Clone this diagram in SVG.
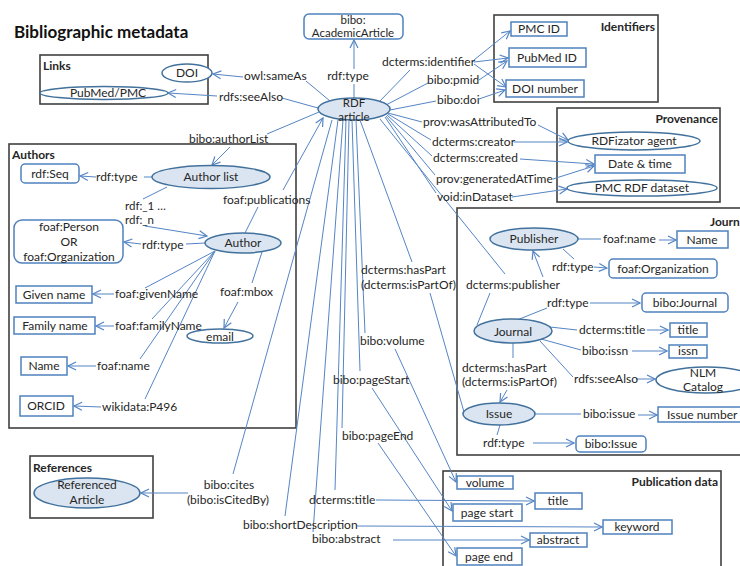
<svg xmlns="http://www.w3.org/2000/svg" width="740" height="566" viewBox="0 0 740 566">
<defs>
<marker id="ah" markerWidth="10" markerHeight="10" refX="9" refY="5" orient="auto" markerUnits="userSpaceOnUse"><path d="M1,1 L9,5 L1,9" fill="none" stroke="#5585c5" stroke-width="1.2"/></marker>
<style>
text{font-family:Lato,"Liberation Sans",sans-serif;font-size:12px;fill:#262626}
.m{text-anchor:middle}
.e{text-anchor:end}
.s{font-size:11.5px}
.hd{font-weight:bold;font-size:12px}
.title{font-weight:bold;font-size:17px;fill:#111}
.c{stroke:#5585c5;stroke-width:1;fill:none}
.a{marker-end:url(#ah)}
.box{fill:none;stroke:#404040;stroke-width:1.6}
.rn{fill:#fff;stroke:#4f81bd;stroke-width:1.5}
.en{fill:#dbe5f1;stroke:#41719c;stroke-width:1.5}
.eo{fill:#fff;stroke:#41719c;stroke-width:1.5}
</style>
</defs>
<rect width="740" height="566" fill="#fff"/>
<text class="title" x="14" y="38">Bibliographic metadata</text>

<g id="links-box"><rect class="box" x="40" y="55" width="168" height="49"/><text class="hd" x="43" y="70">Links</text></g>
<g id="identifiers-box"><rect class="box" x="494" y="15" width="164" height="87"/><text class="hd e" x="655" y="31">Identifiers</text></g>
<g id="provenance-box"><rect class="box" x="557" y="108" width="163" height="94"/><text class="hd e" x="718" y="123">Provenance</text></g>
<g id="authors-box"><rect class="box" x="9" y="144" width="287" height="284"/><text class="hd" x="12" y="159">Authors</text></g>
<g id="references-box"><rect class="box" x="30" y="456" width="123" height="62"/><text class="hd" x="33" y="472">References</text></g>
<g id="journal-box"><rect class="box" x="457" y="208" width="300" height="247"/><text class="hd" x="710" y="226">Journ</text></g>
<g id="pubdata-box"><rect class="box" x="443" y="471" width="278" height="110"/><text class="hd e" x="718" y="486">Publication data</text></g>

<g id="connectors">
<path class="c" d="M354,98 V84"/><path class="c a" d="M354,69 V40"/>
<path class="c" d="M330,101 L306,81"/><path class="c a" d="M243,77 L213,74"/>
<path class="c" d="M318,108 L282,98"/><path class="c a" d="M217,96 L168,93"/>
<path class="c" d="M380,101 L410,70"/>
<path class="c a" d="M474,60 L510,31"/><path class="c a" d="M474,62 L508,58"/><path class="c a" d="M474,64 L506,87"/>
<path class="c" d="M386,105 L428,83"/><path class="c a" d="M479,80 L507,61"/>
<path class="c" d="M390,110 L436,101"/><path class="c a" d="M479,99 L505,90"/>
<path class="c" d="M388,113 L422,122"/><path class="c a" d="M538,125 L568,140"/>
<path class="c" d="M388,114 L431,140"/><path class="c a" d="M514,142 L567,142"/>
<path class="c" d="M387,115 L432,156"/><path class="c a" d="M520,159 L594,164"/>
<path class="c" d="M386,116 L435,175"/><path class="c a" d="M553,179 L594,166"/>
<path class="c" d="M385,117 L436,193"/><path class="c a" d="M512,197 L567,189"/>
<path class="c" d="M319,112 L267,134"/><path class="c a" d="M230,147 L212,165"/>
<path class="c" d="M152,177 H144"/><path class="c a" d="M96,177 L80,176"/>
<path class="c" d="M167,187 L143,199"/><path class="c a" d="M145,226 L207,236"/>
<path class="c" d="M205,243 L186,244"/><path class="c a" d="M141,244 L124,242"/>
<path class="c" d="M245,233 L258,207"/><path class="c a" d="M283,190 L323,118"/>
<path class="c" d="M215,251 L145,288"/><path class="c a" d="M114,294 L93,294"/>
<path class="c" d="M215,251 L152,319"/><path class="c a" d="M114,326 L96,326"/>
<path class="c" d="M215,251 L140,359"/><path class="c a" d="M96,366 L68,366"/>
<path class="c" d="M215,251 L145,399"/><path class="c a" d="M101,407 L74,406"/>
<path class="c" d="M262,252 L252,283"/><path class="c a" d="M238,302 L224,328"/>
<path class="c" d="M332,120 L233,474"/><path class="c a" d="M188,493 L141,493"/>
<path class="c" d="M338,120 L285,516"/><path class="c a" d="M357,526 L602,527"/>
<path class="c" d="M343,120 L313,532"/><path class="c a" d="M393,540 L529,540"/>
<path class="c" d="M346,120 L335,490"/><path class="c a" d="M376,500 L534,501"/>
<path class="c" d="M349,120 L342,428"/><path class="c a" d="M378,443 L456,556"/>
<path class="c" d="M352,120 L360,371"/><path class="c a" d="M372,388 L452,511"/>
<path class="c" d="M356,120 L365,333"/><path class="c a" d="M395,349 L456,482"/>
<path class="c" d="M360,120 L412,262"/><path class="c" d="M430,293 L464,412"/>
<path class="c" d="M380,119 L505,274"/><path class="c a" d="M543,277 L533,251"/><path class="c" d="M477,325 L490,293"/>
<path class="c" d="M578,239 L601,239"/><path class="c a" d="M659,240 L676,240"/>
<path class="c" d="M563,249 L574,259"/><path class="c a" d="M594,267 L607,268"/>
<path class="c" d="M517,320 L547,308"/><path class="c a" d="M590,303 L640,303"/>
<path class="c" d="M550,327 L577,330"/><path class="c a" d="M647,330 L668,330"/>
<path class="c" d="M541,339 L581,350"/><path class="c a" d="M632,351 L667,351"/>
<path class="c" d="M540,341 L573,377"/><path class="c a" d="M636,379 L655,379"/>
<path class="c" d="M513,343 L513,358"/><path class="c a" d="M507,390 L500,402"/>
<path class="c" d="M535,414 L581,414"/><path class="c a" d="M638,415 L657,415"/>
<path class="c" d="M500,425 L497,435"/><path class="c a" d="M533,443 L574,443"/>

<text class="m" x="348" y="80">rdf:type</text>
<text x="244" y="80">owl:sameAs</text>
<text x="219" y="101">rdfs:seeAlso</text>
<text x="382" y="66">dcterms:identifier</text>
<text x="427" y="84">bibo:pmid</text>
<text x="437" y="104">bibo:doi</text>
<text x="423" y="126">prov:wasAttributedTo</text>
<text x="432" y="146">dcterms:creator</text>
<text x="433" y="162">dcterms:created</text>
<text x="436" y="183">prov:generatedAtTime</text>
<text x="437" y="201">void:inDataset</text>
<text x="189" y="143">bibo:authorList</text>
<text x="96" y="181">rdf:type</text>
<text class="s" x="125" y="210">rdf:_1 …</text>
<text class="s" x="125" y="224">rdf:_n</text>
<text x="223" y="204">foaf:publications</text>
<text x="142" y="249">rdf:type</text>
<text x="115" y="298">foaf:givenName</text>
<text x="115" y="330">foaf:familyName</text>
<text x="220" y="296">foaf:mbox</text>
<text x="97" y="370">foaf:name</text>
<text x="102" y="411">wikidata:P496</text>
<text class="m" x="229" y="489">bibo:cites</text>
<text class="m" x="228" y="504">(bibo:isCitedBy)</text>
<text x="361" y="274">dcterms:hasPart</text>
<text x="361" y="289">(dcterms:isPartOf)</text>
<text x="360" y="345">bibo:volume</text>
<text x="333" y="384">bibo:pageStart</text>
<text x="342" y="440">bibo:pageEnd</text>
<text x="309" y="504">dcterms:title</text>
<text x="243" y="529">bibo:shortDescription</text>
<text x="312" y="543">bibo:abstract</text>
<text x="466" y="289">dcterms:publisher</text>
<text x="603" y="243">foaf:name</text>
<text x="552" y="271">rdf:type</text>
<text x="547" y="307">rdf:type</text>
<text x="579" y="334">dcterms:title</text>
<text x="582" y="355">bibo:issn</text>
<text x="574" y="383">rdfs:seeAlso</text>
<text x="462" y="372">dcterms:hasPart</text>
<text x="462" y="386">(dcterms:isPartOf)</text>
<text x="583" y="418">bibo:issue</text>
<text x="483" y="447">rdf:type</text>
</g>

<g id="academic-article"><rect class="rn" x="304" y="14" width="99" height="25" rx="5"/><text class="m s" x="353" y="24">bibo:</text><text class="m s" x="353" y="37">AcademicArticle</text></g>
<g id="rdf-article"><ellipse class="en" cx="354" cy="109" rx="36" ry="11"/><text class="m s" x="354" y="107">RDF</text><text class="m s" x="354" y="121">article</text></g>
<g id="doi"><ellipse class="eo" cx="187" cy="73" rx="25" ry="9"/><text class="m" x="187" y="77">DOI</text></g>
<g id="pubmed-pmc"><ellipse class="eo" cx="104" cy="93" rx="64" ry="6.5"/><text class="m" x="108" y="97">PubMed/PMC</text></g>
<g id="pmc-id"><rect class="rn" x="511" y="22" width="56" height="14"/><text class="m" x="539" y="33">PMC ID</text></g>
<g id="pubmed-id"><rect class="rn" x="509" y="48" width="77" height="19"/><text class="m" x="547" y="62">PubMed ID</text></g>
<g id="doi-number"><rect class="rn" x="506" y="80" width="78" height="17"/><text class="m" x="545" y="93">DOI number</text></g>
<g id="rdfizator"><ellipse class="eo" cx="634" cy="141" rx="66" ry="9"/><text class="m" x="634" y="145">RDFizator agent</text></g>
<g id="date-time"><rect class="rn" x="595" y="155" width="90" height="18"/><text class="m" x="640" y="168">Date &amp; time</text></g>
<g id="pmc-rdf-dataset"><ellipse class="eo" cx="642" cy="188" rx="75" ry="8"/><text class="m" x="642" y="192">PMC RDF dataset</text></g>
<g id="author-list"><ellipse class="en" cx="211" cy="177" rx="59" ry="11.5"/><text class="m" x="211" y="181">Author list</text></g>
<g id="rdf-seq"><rect class="rn" x="21" y="164" width="58" height="19" rx="4"/><text class="m" x="50" y="178">rdf:Seq</text></g>
<g id="author"><ellipse class="en" cx="243" cy="243" rx="38" ry="10"/><text class="m" x="243" y="247">Author</text></g>
<g id="person-org"><rect class="rn" x="14" y="220" width="109" height="43" rx="8"/><text class="m" x="69" y="231">foaf:Person</text><text class="m" x="69" y="246">OR</text><text class="m" x="69" y="261">foaf:Organization</text></g>
<g id="given-name"><rect class="rn" x="16" y="286" width="76" height="17"/><text class="m" x="54" y="299">Given name</text></g>
<g id="family-name"><rect class="rn" x="14" y="317" width="81" height="17"/><text class="m" x="55" y="330">Family name</text></g>
<g id="email"><ellipse class="eo" cx="220" cy="336" rx="33" ry="7"/><text class="m" x="220" y="341">email</text></g>
<g id="author-name"><rect class="rn" x="21" y="357" width="46" height="18"/><text class="m" x="44" y="370">Name</text></g>
<g id="orcid"><rect class="rn" x="20" y="396" width="53" height="20"/><text class="m" x="46" y="410">ORCID</text></g>
<g id="referenced-article"><ellipse class="en" cx="87" cy="493" rx="53" ry="15"/><text class="m" x="87" y="489">Referenced</text><text class="m" x="87" y="504">Article</text></g>
<g id="publisher"><ellipse class="en" cx="534" cy="239" rx="44" ry="11"/><text class="m" x="534" y="243">Publisher</text></g>
<g id="publisher-name"><rect class="rn" x="677" y="231" width="51" height="17"/><text class="m" x="702" y="244">Name</text></g>
<g id="foaf-organization"><rect class="rn" x="609" y="259" width="108" height="19" rx="4"/><text class="m" x="663" y="273">foaf:Organization</text></g>
<g id="bibo-journal"><rect class="rn" x="642" y="293" width="86" height="19" rx="4"/><text class="m" x="685" y="307">bibo:Journal</text></g>
<g id="journal"><ellipse class="en" cx="513" cy="331" rx="39" ry="12"/><text class="m" x="513" y="336">Journal</text></g>
<g id="journal-title"><rect class="rn" x="670" y="323" width="37" height="14"/><text class="m" x="688" y="334">title</text></g>
<g id="issn"><rect class="rn" x="669" y="345" width="38" height="13"/><text class="m" x="688" y="355">issn</text></g>
<g id="nlm-catalog"><ellipse class="eo" cx="706" cy="380" rx="50" ry="13"/><text class="m" x="703" y="377">NLM</text><text class="m" x="703" y="391">Catalog</text></g>
<g id="issue"><ellipse class="en" cx="499" cy="414" rx="36" ry="11"/><text class="m" x="499" y="418">Issue</text></g>
<g id="issue-number"><rect class="rn" x="658" y="407" width="84" height="15"/><text x="667" y="419">Issue number</text></g>
<g id="bibo-issue"><rect class="rn" x="576" y="436" width="70" height="16" rx="4"/><text class="m" x="611" y="448">bibo:Issue</text></g>
<g id="volume"><rect class="rn" x="457" y="476" width="56" height="13"/><text class="m" x="485" y="487">volume</text></g>
<g id="page-start"><rect class="rn" x="453" y="504" width="69" height="17"/><text class="m" x="487" y="517">page start</text></g>
<g id="page-end"><rect class="rn" x="457" y="548" width="65" height="17"/><text class="m" x="489" y="561">page end</text></g>
<g id="pub-title"><rect class="rn" x="535" y="493" width="47" height="16"/><text class="m" x="558" y="505">title</text></g>
<g id="keyword"><rect class="rn" x="603" y="520" width="69" height="14"/><text class="m" x="637" y="531">keyword</text></g>
<g id="abstract"><rect class="rn" x="530" y="533" width="57" height="14"/><text class="m" x="558" y="544">abstract</text></g>
</svg>
